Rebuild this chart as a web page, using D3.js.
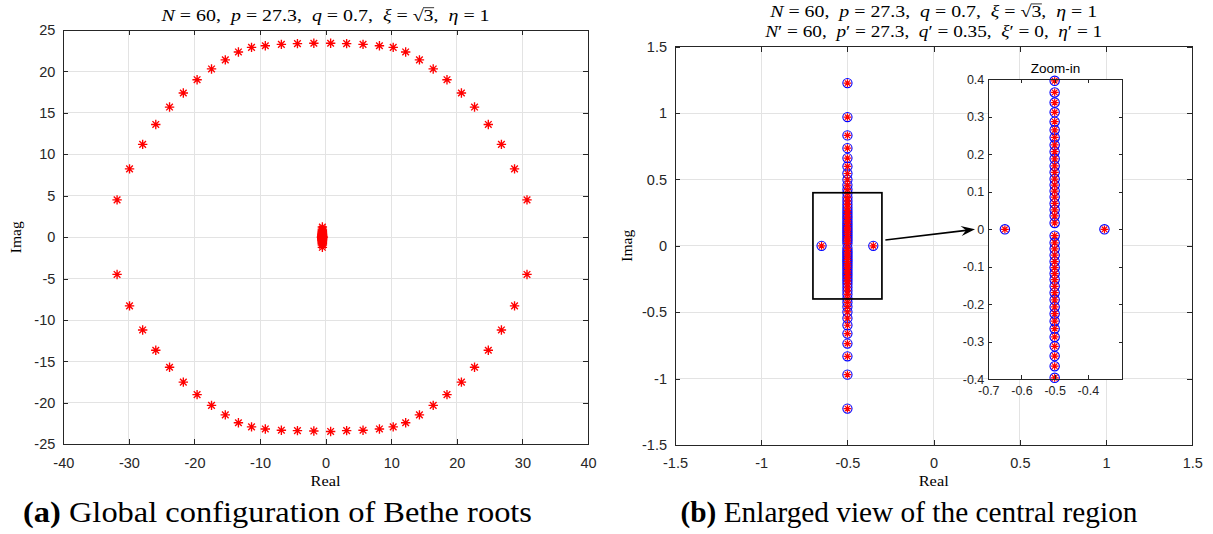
<!DOCTYPE html>
<html><head><meta charset="utf-8">
<script src="https://cdn.jsdelivr.net/npm/d3@7"></script>
<style>
body{margin:0;background:#fff;}
svg{display:block;}
</style></head><body>
<svg id="chart" width="1213" height="534"></svg>
<script>
// ---------------- DATA ----------------
// (a) outer ring of Bethe roots, upper half and lower half
const ringUpperRe = [-31.8,-29.9,-27.9,-25.9,-23.8,-21.7,-19.6,-17.4,-15.3,-13.3,-11.3,-9.2,-6.75,-4.3,-1.8,0.76,3.2,5.7,8.2,10.3,12.2,14.3,16.4,18.5,20.7,22.7,24.8,26.8,28.8,30.7];
const ringUpperIm = [4.5,8.24,11.2,13.6,15.7,17.4,19.0,20.3,21.4,22.35,22.9,23.1,23.27,23.35,23.4,23.4,23.35,23.27,23.1,22.9,22.35,21.4,20.3,19.0,17.4,15.7,13.6,11.2,8.24,4.5];
const ringLowerRe = [-31.8,-29.9,-27.9,-25.9,-23.8,-21.7,-19.6,-17.4,-15.3,-13.3,-11.3,-9.2,-6.75,-4.3,-1.8,0.76,3.2,5.7,8.2,10.3,12.2,14.3,16.4,18.5,20.7,22.7,24.8,26.8,28.8,30.7];
const ringLowerIm = [-4.5,-8.3,-11.2,-13.65,-15.7,-17.5,-19.0,-20.3,-21.45,-22.4,-22.9,-23.15,-23.3,-23.35,-23.4,-23.45,-23.35,-23.3,-23.15,-22.9,-22.4,-21.45,-20.3,-19.0,-17.5,-15.7,-13.65,-11.2,-8.3,-4.5];

// central roots (N=60 set, red asterisks)
const coreRe = [-0.5,-0.5,-0.5,-0.5,-0.5,-0.5,-0.5,-0.5,-0.5,-0.5,-0.5,-0.5,-0.5,-0.5,-0.5,-0.5,-0.5,-0.5,-0.5,-0.5,-0.5,-0.5,-0.5,-0.5,-0.5,-0.5,-0.5,-0.5,-0.5,-0.5,
  -0.65,-0.35,
  -0.5,-0.5,-0.5,-0.5,-0.5,-0.5,-0.5,-0.5,-0.5,-0.5,-0.5,-0.5,-0.5,-0.5,-0.5,-0.5,-0.5,-0.5,-0.5,-0.5,-0.5,-0.5,-0.5,-0.5,-0.5,-0.5,-0.5,-0.5,-0.5,-0.5];
const coreIm = [1.226,0.970,0.832,0.736,0.661,0.598,0.545,0.498,0.458,0.425,0.396,0.365,0.338,0.312,0.287,0.265,0.245,0.225,0.207,0.188,0.169,0.152,0.134,0.118,0.102,0.086,0.069,0.052,0.036,0.017,
  0,0,
  -0.017,-0.036,-0.052,-0.069,-0.086,-0.102,-0.118,-0.134,-0.152,-0.169,-0.188,-0.207,-0.225,-0.245,-0.265,-0.287,-0.312,-0.338,-0.365,-0.396,-0.425,-0.458,-0.498,-0.545,-0.598,-0.661,-0.736,-0.832,-0.970,-1.226];

// primed set (N'=60, blue circles)
const primeRe = [-0.5,-0.5,-0.5,-0.5,-0.5,-0.5,-0.5,-0.5,-0.5,-0.5,-0.5,-0.5,-0.5,-0.5,-0.5,-0.5,-0.5,-0.5,-0.5,-0.5,-0.5,-0.5,-0.5,-0.5,-0.5,-0.5,-0.5,-0.5,-0.5,-0.5,
  -0.65,-0.35,
  -0.5,-0.5,-0.5,-0.5,-0.5,-0.5,-0.5,-0.5,-0.5,-0.5,-0.5,-0.5,-0.5,-0.5,-0.5,-0.5,-0.5,-0.5,-0.5,-0.5,-0.5,-0.5,-0.5,-0.5,-0.5,-0.5,-0.5,-0.5,-0.5,-0.5];
const primeIm = [1.226,0.970,0.832,0.736,0.661,0.598,0.545,0.498,0.458,0.425,0.396,0.365,0.338,0.312,0.287,0.265,0.245,0.225,0.207,0.188,0.169,0.152,0.134,0.118,0.102,0.086,0.069,0.052,0.036,0.017,
  0,0,
  -0.017,-0.036,-0.052,-0.069,-0.086,-0.102,-0.118,-0.134,-0.152,-0.169,-0.188,-0.207,-0.225,-0.245,-0.265,-0.287,-0.312,-0.338,-0.365,-0.396,-0.425,-0.458,-0.498,-0.545,-0.598,-0.661,-0.736,-0.832,-0.970,-1.226];

// ticks
const ticksAx = [-40,-30,-20,-10,0,10,20,30,40];
const ticksAy = [-25,-20,-15,-10,-5,0,5,10,15,20,25];
const ticksB = [-1.5,-1,-0.5,0,0.5,1,1.5];
const ticksInsetX = [-0.7,-0.6,-0.5,-0.4];
const ticksInsetY = [-0.4,-0.3,-0.2,-0.1,0,0.1,0.2,0.3,0.4];
const zoomBox = {x0:-0.7, x1:-0.3, y0:-0.4, y1:0.4};

// text
const title1 = [["N",1],[" = 60,  ",0],["p",1],[" = 27.3,  ",0],["q",1],[" = 0.7,  ",0],["ξ",1],[" = √3,  ",0],["η",1],[" = 1",0]];
const title2 = [["N",1],["′ = 60,  ",0],["p",1],["′ = 27.3,  ",0],["q",1],["′ = 0.35,  ",0],["ξ",1],["′ = 0,  ",0],["η",1],["′ = 1",0]];
const capA = [["(a)",2],[" Global configuration of Bethe roots",0]];
const capB = [["(b)",2],[" Enlarged view of the central region",0]];

// ---------------- DRAWING ----------------
const svg = d3.select("#chart");
svg.append("rect").attr("width",1213).attr("height",534).attr("fill","#fff");
const AX = "#262626", GRID = "#e3e3e3";
const sans = "'Liberation Sans', Arial, Helvetica, sans-serif";
const serif = "'Liberation Serif', 'Times New Roman', serif";
const fmt = d => String(+d.toFixed(3));

const pts = (re, im) => re.map((r,i)=>({re:r, im:im[i]}));
const ringPts = pts(ringUpperRe, ringUpperIm).concat(pts(ringLowerRe, ringLowerIm));
const corePts = pts(coreRe, coreIm);
const primePts = pts(primeRe, primeIm);

function star(r){ const d=r*Math.SQRT1_2; return `M${-r},0H${r}M0,${-r}V${r}M${-d},${-d}L${d},${d}M${-d},${d}L${d},${-d}`; }

function grid(g, x, y, xt, yt){
  const [x0,x1]=x.range(), [yb,yt0]=y.range();
  g.append("g").selectAll("line").data(xt).join("line")
    .attr("x1",d=>x(d)).attr("x2",d=>x(d)).attr("y1",yt0).attr("y2",yb)
    .attr("stroke",GRID).attr("shape-rendering","crispEdges");
  g.append("g").selectAll("line").data(yt).join("line")
    .attr("y1",d=>y(d)).attr("y2",d=>y(d)).attr("x1",x0).attr("x2",x1)
    .attr("stroke",GRID).attr("shape-rendering","crispEdges");
}

function frame(g, x, y, xt, yt, o){
  const [x0,x1]=x.range(), [yb,ytop]=y.range();
  const tl = o.tick, fs = o.fs;
  const style = sel => {
    sel.select(".domain").remove();
    sel.selectAll("line").attr("stroke",AX).attr("shape-rendering","crispEdges");
    sel.selectAll("text").attr("fill",AX).attr("font-family",sans).attr("font-size",fs);
    sel.attr("font-family",null).attr("font-size",null);
  };
  g.append("g").attr("transform",`translate(0,${yb})`)
    .call(d3.axisBottom(x).tickValues(xt).tickSize(-tl).tickPadding(o.padX).tickFormat(fmt)).call(style);
  g.append("g").attr("transform",`translate(0,${ytop})`)
    .call(d3.axisTop(x).tickValues(xt).tickSize(-tl).tickFormat("")).call(style);
  g.append("g").attr("transform",`translate(${x0},0)`)
    .call(d3.axisLeft(y).tickValues(yt).tickSize(-tl).tickPadding(o.padY).tickFormat(fmt)).call(style);
  g.append("g").attr("transform",`translate(${x1},0)`)
    .call(d3.axisRight(y).tickValues(yt).tickSize(-tl).tickFormat("")).call(style);
  g.append("rect").attr("x",x0).attr("y",ytop).attr("width",x1-x0).attr("height",yb-ytop)
    .attr("fill","none").attr("stroke",AX).attr("stroke-width",1).attr("shape-rendering","crispEdges");
}

function richText(x, yb, parts, fs, width, anchor, adjust){
  const t = svg.append("text").attr("x",x).attr("y",yb).attr("text-anchor",anchor||"middle")
    .attr("font-family",serif).attr("font-size",fs).attr("fill","#000")
    .attr("xml:space","preserve").style("white-space","pre");
  parts.forEach(([s,st]) => t.append("tspan").text(s)
    .attr("font-style", st===1 ? "italic" : "normal")
    .attr("font-weight", st===2 ? "bold" : "normal"));
  if (width) t.attr("textLength",width).attr("lengthAdjust",adjust||"spacingAndGlyphs");
  const full = parts.map(p=>p[0]).join("");
  const k = full.indexOf("√");
  if (k >= 0) {
    const n = t.node(), e1 = n.getExtentOfChar(k), e2 = n.getExtentOfChar(k+1);
    const yo = yb - 0.80*fs;
    svg.append("line").attr("x1",e1.x+e1.width-0.6).attr("x2",e2.x+e2.width+0.5)
      .attr("y1",yo).attr("y2",yo).attr("stroke","#000").attr("stroke-width",0.8);
  }
  return t;
}

function label(x, y, s, fs, width, rot){
  const t = svg.append("text").attr("transform",`translate(${x},${y}) rotate(${rot||0})`)
    .attr("text-anchor","middle").attr("font-family",serif).attr("font-size",fs).attr("fill","#000").text(s);
  if (width) t.attr("textLength",width).attr("lengthAdjust","spacingAndGlyphs");
}

// ---- Panel (a) ----
const xA = d3.scaleLinear([-40,40],[63.3,588]);
const yA = d3.scaleLinear([-25,25],[444.3,30]);
const gA = svg.append("g");
grid(gA, xA, yA, ticksAx, ticksAy);
const redStar = (g, data, x, y, r, sw) => g.append("g").selectAll("path").data(data).join("path")
  .attr("transform",d=>`translate(${x(d.re)},${y(d.im)})`).attr("d",star(r))
  .attr("fill","none").attr("stroke","#ff0000").attr("stroke-width",sw);
redStar(gA, ringPts, xA, yA, 4.7, 1.35);
redStar(gA, corePts, xA, yA, 4.7, 1.35);
frame(gA, xA, yA, ticksAx, ticksAy, {tick:5, fs:14.5, padX:13, padY:8});
richText(325.6, 20.5, title1, 16, 328);
label(325.6, 486, "Real", 15, 30);
label(21, 237.2, "Imag", 15, 32, -90);

// ---- Panel (b) ----
const xB = d3.scaleLinear([-1.5,1.5],[675,1192.3]);
const yB = d3.scaleLinear([-1.5,1.5],[445,46.7]);
const gB = svg.append("g");
grid(gB, xB, yB, ticksB, ticksB);
const blueCirc = (g, data, x, y, r) => g.append("g").selectAll("circle").data(data).join("circle")
  .attr("cx",d=>x(d.re)).attr("cy",d=>y(d.im)).attr("r",r)
  .attr("fill","none").attr("stroke","#0000ff").attr("stroke-width",1.1);
blueCirc(gB, primePts, xB, yB, 4.6);
redStar(gB, corePts, xB, yB, 3.8, 1.2);
gB.append("rect").attr("x",xB(zoomBox.x0)).attr("y",yB(zoomBox.y1))
  .attr("width",xB(zoomBox.x1)-xB(zoomBox.x0)).attr("height",yB(zoomBox.y0)-yB(zoomBox.y1))
  .attr("fill","none").attr("stroke","#000").attr("stroke-width",1.7);
frame(gB, xB, yB, ticksB, ticksB, {tick:5, fs:14.5, padX:13, padY:8});
richText(933.7, 16.7, title1, 16, 327);
richText(933.7, 36.7, title2, 16, 337);
label(933.7, 486, "Real", 15, 30);
label(632, 245.8, "Imag", 15, 32, -90);

// ---- Inset ----
const xI = d3.scaleLinear([-0.7,-0.295],[988.3,1122.7]);
const yI = d3.scaleLinear([-0.4,0.4],[379.3,79.3]);
const gI = svg.append("g");
gI.append("rect").attr("x",988.3).attr("y",79.3).attr("width",1122.7-988.3).attr("height",300).attr("fill","#fff");
blueCirc(gI, primePts.filter(d=>Math.abs(d.im)<=0.41), xI, yI, 4.7);
redStar(gI, corePts.filter(d=>Math.abs(d.im)<=0.41), xI, yI, 3.9, 1.2);
frame(gI, xI, yI, ticksInsetX, ticksInsetY, {tick:4, fs:12.5, padX:7, padY:4});
svg.append("text").attr("x",(988.3+1122.7)/2).attr("y",72.7).attr("text-anchor","middle")
  .attr("font-family",sans).attr("font-size",13.5).attr("fill","#000").text("Zoom-in");

// ---- Arrow ----
const ax0 = xB(-0.28), ay0 = yB(0.044), ax1 = xI(-0.74), ay1 = yI(0);
const ang = Math.atan2(ay1-ay0, ax1-ax0), L = 14, W = 5, N = 9;
const ux = Math.cos(ang), uy = Math.sin(ang), px = -uy, py = ux;
svg.append("line").attr("x1",ax0).attr("y1",ay0).attr("x2",ax1-ux*N).attr("y2",ay1-uy*N)
  .attr("stroke","#000").attr("stroke-width",1.6);
svg.append("path").attr("d",`M${ax1},${ay1}L${ax1-ux*L+px*W},${ay1-uy*L+py*W}L${ax1-ux*N},${ay1-uy*N}L${ax1-ux*L-px*W},${ay1-uy*L-py*W}Z`)
  .attr("fill","#000");

// ---- Captions ----
richText(23, 522, capA, 28.5, 509, "start");
richText(680.5, 522, capB, 28.5, 457, "start");
</script>
</body></html>
